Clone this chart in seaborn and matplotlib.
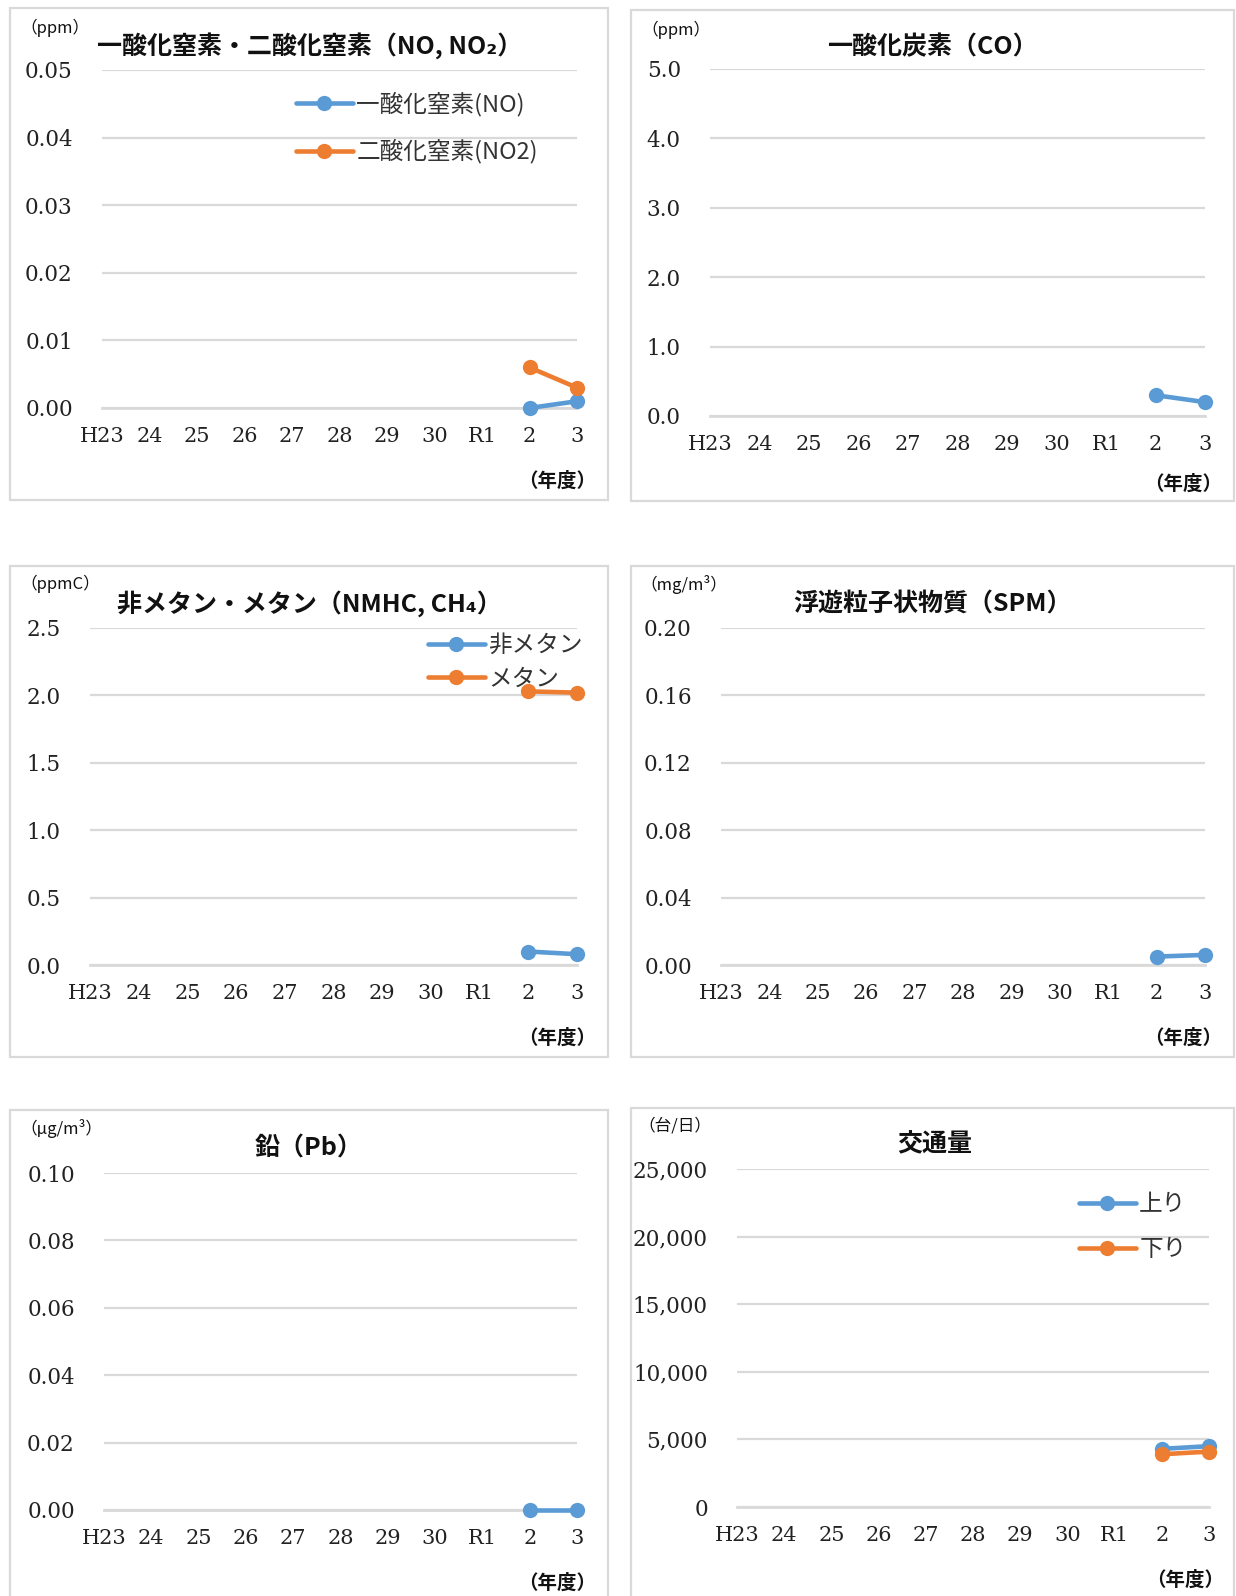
import matplotlib
matplotlib.use("Agg")
import matplotlib.pyplot as plt
from matplotlib.patches import Rectangle
import pandas as pd
import seaborn as sns

# ---- data ----
years = ["H23", "24", "25", "26", "27", "28", "29", "30", "R1", "2", "3"]

no_ppm = [None, None, None, None, None, None, None, None, None, 0.000, 0.001]
no2_ppm = [None, None, None, None, None, None, None, None, None, 0.006, 0.003]
co_ppm = [None, None, None, None, None, None, None, None, None, 0.3, 0.2]
nmhc_ppmc = [None, None, None, None, None, None, None, None, None, 0.10, 0.08]
ch4_ppmc = [None, None, None, None, None, None, None, None, None, 2.03, 2.02]
spm_mg = [None, None, None, None, None, None, None, None, None, 0.005, 0.006]
pb_ug = [None, None, None, None, None, None, None, None, None, 0.00, 0.00]
traffic_up = [None, None, None, None, None, None, None, None, None, 4300, 4500]
traffic_down = [None, None, None, None, None, None, None, None, None, 3900, 4100]

yticks_no = [0.00, 0.01, 0.02, 0.03, 0.04, 0.05]
yticks_co = [0.0, 1.0, 2.0, 3.0, 4.0, 5.0]
yticks_hc = [0.0, 0.5, 1.0, 1.5, 2.0, 2.5]
yticks_spm = [0.00, 0.04, 0.08, 0.12, 0.16, 0.20]
yticks_pb = [0.00, 0.02, 0.04, 0.06, 0.08, 0.10]
yticks_traffic = [0, 5000, 10000, 15000, 20000, 25000]

BLUE = "#5B9BD5"
ORANGE = "#ED7D31"
GRID = "#D9D9D9"

W, H = 1236, 1596

sns.set_theme(style="white")
plt.rcParams["font.family"] = ["Noto Sans CJK JP", "DejaVu Sans"]

fig = plt.figure(figsize=(W / 100, H / 100), dpi=100)


def fx(px):
    return px / W


def fy(py):
    return 1 - py / H


def panel(box, plot, series, yticks, fmt, title, unit, title_xy, unit_xy, year_xy,
          legend=None):
    bx0, by0, bx1, by1 = box
    fig.add_artist(Rectangle((fx(bx0), fy(by1)), fx(bx1 - bx0), (by1 - by0) / H,
                             transform=fig.transFigure, fill=False,
                             edgecolor=GRID, lw=1.6))
    x0, y0, x1, y1 = plot
    ax = fig.add_axes([fx(x0), fy(y1), fx(x1 - x0), (y1 - y0) / H])
    for label, values, color in series:
        df = pd.DataFrame({"pos": range(len(years)), "val": values}).dropna()
        kws = dict(label=label) if legend else {}
        sns.lineplot(data=df, x="pos", y="val", color=color, marker="o",
                     markersize=11, linewidth=3.3, markeredgewidth=0,
                     clip_on=False, zorder=4, ax=ax, **kws)
    ax.set_xlabel("")
    ax.set_ylabel("")
    ax.set_xlim(0, len(years) - 1)
    ax.set_ylim(yticks[0], yticks[-1])
    ax.set_xticks(range(len(years)))
    ax.set_xticklabels(years)
    ax.set_yticks(yticks)
    ax.set_yticklabels([fmt.format(v) for v in yticks])
    ax.grid(axis="y", color=GRID, lw=1.6)
    ax.grid(axis="x", visible=False)
    ax.set_axisbelow(True)
    for s in ["top", "left", "right"]:
        ax.spines[s].set_visible(False)
    ax.spines["bottom"].set_color(GRID)
    ax.spines["bottom"].set_linewidth(2)
    ax.tick_params(axis="x", direction="in", length=6, width=1.5, color=GRID,
                   pad=14, labelsize=15, labelcolor="#222222")
    ax.tick_params(axis="y", length=0, pad=21, labelsize=15.5, labelcolor="#222222")
    for lbl in ax.get_xticklabels() + ax.get_yticklabels():
        lbl.set_fontfamily("DejaVu Serif")
    ax.patch.set_alpha(0)

    if legend:
        lx, ly, spacing = legend
        ax.legend(loc="upper left", bbox_to_anchor=(fx(lx), fy(ly)),
                  bbox_transform=fig.transFigure, frameon=False,
                  handlelength=2.4, handletextpad=0.15, borderpad=0,
                  borderaxespad=0, labelspacing=spacing,
                  prop={"family": ["Noto Sans CJK JP", "DejaVu Sans"],
                        "weight": "normal", "size": 17})
        for t in ax.get_legend().get_texts():
            t.set_color("#333333")
    elif ax.get_legend() is not None:
        ax.get_legend().remove()

    fig.text(fx(title_xy[0]), fy(title_xy[1]), title, ha="center", va="center",
             fontsize=18, fontweight="bold", color="#111111")
    fig.text(fx(unit_xy[0]), fy(unit_xy[1]), unit, ha="left", va="center",
             fontsize=12, color="#111111")
    fig.text(fx(year_xy[0]), fy(year_xy[1]), "（年度）", ha="right", va="center",
             fontsize=14, fontweight="bold", color="#111111")
    return ax


panel((10, 8, 608, 500), (102, 70, 577, 408),
      [("一酸化窒素(NO)", no_ppm, BLUE), ("二酸化窒素(NO2)", no2_ppm, ORANGE)],
      yticks_no, "{:.2f}", "一酸化窒素・二酸化窒素（NO, NO₂）", "（ppm）",
      (310, 46), (20, 28), (596, 481), legend=(296, 92, 0.95))

panel((631, 10, 1234, 501), (710, 69, 1205, 416),
      [("一酸化炭素(CO)", co_ppm, BLUE)],
      yticks_co, "{:.1f}", "一酸化炭素（CO）", "（ppm）",
      (932, 47), (641, 30), (1222, 484))

panel((10, 566, 608, 1057), (90, 628, 577, 965),
      [("非メタン", nmhc_ppmc, BLUE), ("メタン", ch4_ppmc, ORANGE)],
      yticks_hc, "{:.1f}", "非メタン・メタン（NMHC, CH₄）", "（ppmC）",
      (309, 604), (20, 584), (596, 1038), legend=(428, 634, 0.45))

panel((631, 566, 1234, 1057), (721, 628, 1205, 965),
      [("浮遊粒子状物質(SPM)", spm_mg, BLUE)],
      yticks_spm, "{:.2f}", "浮遊粒子状物質（SPM）", "（mg/m³）",
      (933, 604), (640, 584), (1222, 1038))

panel((10, 1110, 608, 1600), (104, 1173, 577, 1510),
      [("鉛(Pb)", pb_ug, BLUE)],
      yticks_pb, "{:.2f}", "鉛（Pb）", "（μg/m³）",
      (309, 1148), (20, 1128), (596, 1583))

panel((631, 1108, 1234, 1600), (737, 1169, 1209, 1507),
      [("上り", traffic_up, BLUE), ("下り", traffic_down, ORANGE)],
      yticks_traffic, "{:,.0f}", "交通量", "（台/日）",
      (935, 1144), (638, 1126), (1224, 1580), legend=(1079, 1193, 0.95))

fig.savefig("out.png", dpi=100, facecolor="white")
